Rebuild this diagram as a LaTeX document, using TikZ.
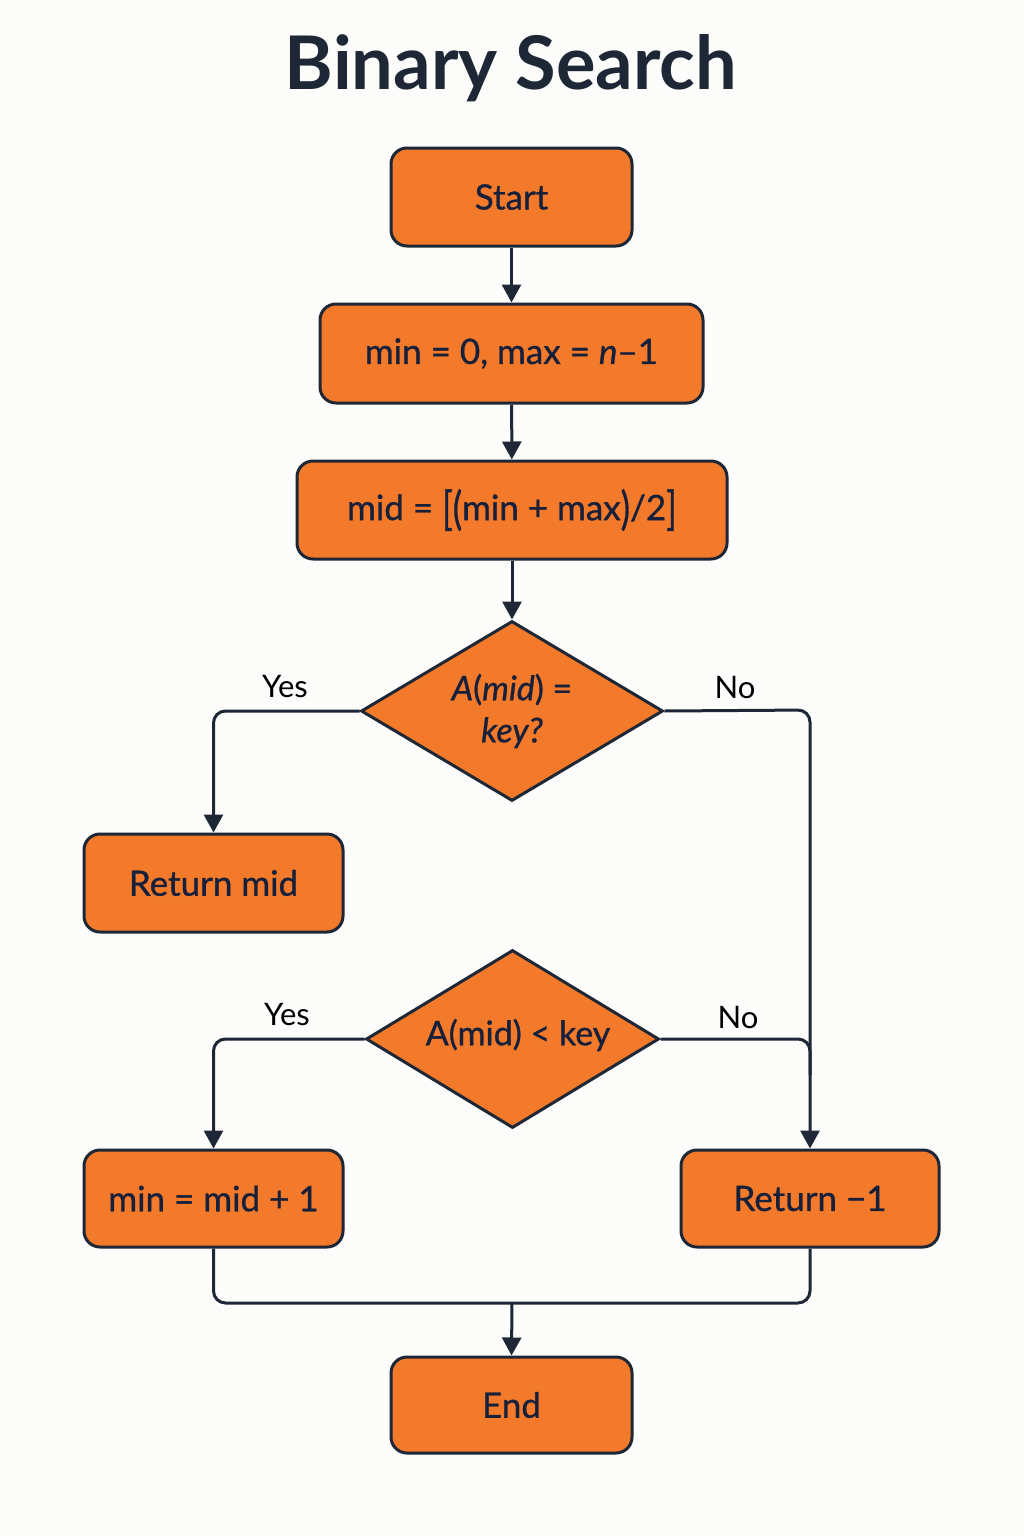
\documentclass[tikz,border=0pt]{standalone}
\usepackage{fontspec}
\usepackage{graphicx}
\setmainfont{Lato}
\newfontfamily\medfont{Lato}[FakeBold=0.9]
\usetikzlibrary{shapes.geometric,arrows.meta}
\definecolor{bgc}{HTML}{FCFCFA}
\definecolor{orng}{HTML}{F37A2B}
\definecolor{ink}{HTML}{1E2736}
\definecolor{txt}{HTML}{17203A}
\newcommand{\tallbr}[1]{\raisebox{-0.12em}{\scalebox{1}[1.3]{#1}}}
\begin{document}
\begin{tikzpicture}[x=1pt,y=-1pt,
  boxst/.style={draw=ink, fill=orng, line width=3pt, rounded corners=16pt, inner sep=0pt,
     text=txt, font=\medfont\fontsize{35}{40}\selectfont, align=center},
  diast/.style={diamond, draw=ink, fill=orng, line width=3pt, inner sep=0pt, line join=miter},
  dtext/.style={text=txt, font=\medfont\fontsize{34}{42}\selectfont, align=center, inner sep=0pt},
  conn/.style={draw=ink, line width=3pt, rounded corners=12pt},
  arr/.style={conn, -{Triangle[width=19pt,length=18pt]}},
  lbl/.style={text=black, font=\fontsize{31}{36}\selectfont, inner sep=0pt}]
\fill[bgc] (0,0) rectangle (1024,1536);
\useasboundingbox (0,0) rectangle (1024,1536);

\node[text=ink, font=\fontsize{74}{84}\selectfont\bfseries] (title) at (511,68) {Binary Search};

\node[boxst, minimum width=241pt, minimum height=98pt] (start) at (511.5,197) {Start};
\node[boxst, minimum width=383pt, minimum height=99pt] (init) at (511.5,353.5) {min = 0, max = \textit{n}–1};
\node[boxst, minimum width=430pt, minimum height=98pt] (mid) at (512,510) {mid = \tallbr{[}\tallbr{(}min + max\tallbr{)}/2\tallbr{]}};
\node[diast, minimum width=302pt, minimum height=180pt] (d1) at (512,711) {};
\node[dtext] (d1t) at (512,711) {\textit{A}(\textit{mid}) =\\\textit{key?}};
\node[boxst, minimum width=259pt, minimum height=98pt] (rmid) at (213.5,883) {Return mid};
\node[diast, minimum width=293pt, minimum height=178pt] (d2) at (512.5,1039) {};
\node[dtext] (d2t) at (518,1035) {A(mid) < key};
\node[boxst, minimum width=259pt, minimum height=97pt] (mnew) at (213.5,1198.5) {min = mid + 1};
\node[boxst, minimum width=258pt, minimum height=97pt] (rneg) at (810,1198.5) {Return −1};
\node[boxst, minimum width=241pt, minimum height=96pt] (end) at (511.5,1405) {End};

\node[lbl] (y1) at (285,687) {Yes};
\node[lbl] (n1) at (735,687) {No};
\node[lbl] (y2) at (287,1015) {Yes};
\node[lbl] (n2) at (738,1017) {No};

\coordinate (c1) at (810,710);
\coordinate (c2) at (810,1075);
\coordinate (join) at (512,1303);

\draw[arr] (start) -- (init);
\draw[arr] (init) -- (mid);
\draw[arr] (mid) -- (d1.north);
\draw[arr] (d1.west) -| (rmid.north);
\draw[arr] (d1.east) -- (c1) -- (rneg.north);
\draw[arr] (d2.west) -| (mnew.north);
\draw[conn] (d2.east) -| (c2);
\draw[conn] (mnew.south) |- (join) -| (rneg.south);
\draw[arr] (join) -- (end.north);
\end{tikzpicture}
\end{document}
